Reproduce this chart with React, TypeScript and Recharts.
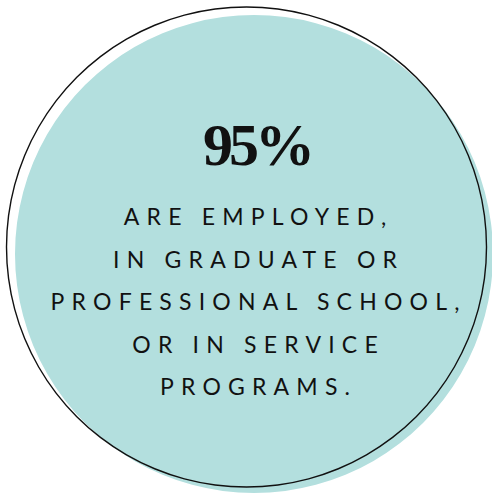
import React from "react";
import { PieChart, Pie, Cell } from "recharts";

const headline = "95%";
const bodyLines = [
  "ARE EMPLOYED,",
  "IN GRADUATE OR",
  "PROFESSIONAL SCHOOL,",
  "OR IN SERVICE",
  "PROGRAMS.",
];
const fillCircle = [{ name: "share", value: 1 }];
const outlineRing = [{ name: "outline", value: 1 }];

const W = 492;
const H = 493;
const TEAL = "#b3dfde";
const INK = "#111111";
const BODY_SPACING = 7.2;

const renderTextBlock = () => (
  <g>
    <text
      x={255 + 2}
      y={165}
      textAnchor="middle"
      fontFamily="'Liberation Serif', 'DejaVu Serif', serif"
      fontWeight={700}
      fontSize={60}
      letterSpacing={-4}
      fill={INK}
    >
      {headline}
    </text>
    {bodyLines.map((line, i) => (
      <text
        key={line}
        x={255 + BODY_SPACING / 2}
        y={225 + i * 42.5}
        textAnchor="middle"
        fontFamily="Lato, 'Open Sans', sans-serif"
        fontWeight={400}
        fontSize={23}
        letterSpacing={BODY_SPACING}
        fill={INK}
      >
        {line}
      </text>
    ))}
  </g>
);

export default function App() {
  return (
    <div style={{ width: W, height: H, background: "#ffffff" }}>
      <style>{`html,body{margin:0;padding:0;background:#fff;}`}</style>
      <PieChart width={W} height={H} margin={{ top: 0, right: 0, bottom: 0, left: 0 }}>
        <Pie
          data={fillCircle}
          dataKey="value"
          cx={254}
          cy={254}
          innerRadius={0}
          outerRadius={239}
          startAngle={90}
          endAngle={450}
          stroke="none"
          isAnimationActive={false}
        >
          <Cell fill={TEAL} />
        </Pie>
        <Pie
          data={outlineRing}
          dataKey="value"
          cx={246.5}
          cy={247}
          innerRadius={239.3}
          outerRadius={240.7}
          startAngle={90}
          endAngle={450}
          stroke="none"
          label={renderTextBlock}
          labelLine={false}
          isAnimationActive={false}
        >
          <Cell fill={INK} />
        </Pie>
      </PieChart>
    </div>
  );
}
